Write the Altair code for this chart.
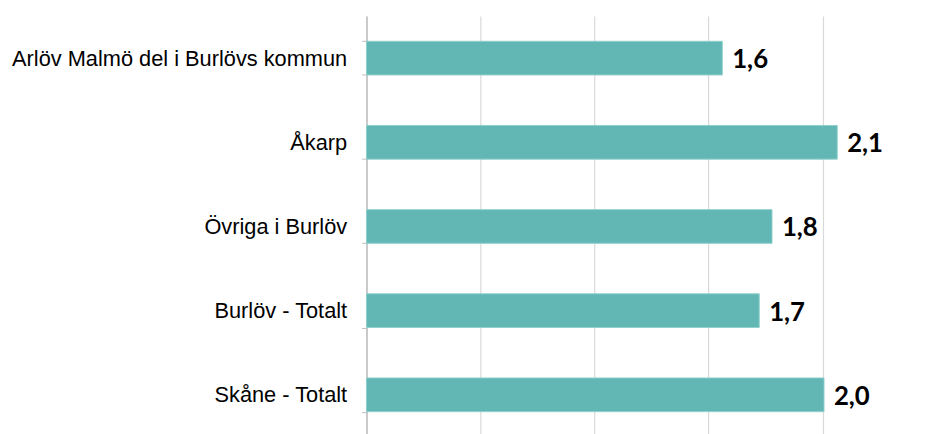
import altair as alt
import pandas as pd

categories = ["Arlöv Malmö del i Burlövs kommun", "Åkarp", "Övriga i Burlöv", "Burlöv - Totalt", "Skåne - Totalt"]
values = [1.56, 2.064, 1.778, 1.722, 2.006]
labels = ["1,6", "2,1", "1,8", "1,7", "2,0"]
grid_ticks = [0, 0.5, 1.0, 1.5, 2.0]

df = pd.DataFrame({"cat": categories, "val": values, "lbl": labels})

y_enc = alt.Y("cat:N", sort=categories, title=None,
              scale=alt.Scale(paddingInner=0.6, paddingOuter=0.3),
              axis=alt.Axis(tickBand="extent", labelFont="Liberation Sans", labelFontSize=22,
                            labelColor="#000000", labelPadding=15, tickSize=5,
                            tickColor="#BFBFBF", domainColor="#BFBFBF", domainWidth=1.5,
                            grid=False, labelLimit=500))
x_enc = alt.X("val:Q", title=None,
              scale=alt.Scale(domain=[0, 2.44], nice=False, zero=True),
              axis=alt.Axis(values=grid_ticks, labels=False, ticks=False, domain=False,
                            grid=True, gridColor="#D9D9D9", gridWidth=1.2))

bars = alt.Chart(df).mark_bar(color="#62B7B4", stroke="#8FCFCC", strokeWidth=1).encode(x=x_enc, y=y_enc)
text = alt.Chart(df).mark_text(align="left", baseline="middle", dx=10, dy=2, font="Lato",
                               fontWeight="bold", fontSize=26, color="#000000").encode(
    x="val:Q", y=alt.Y("cat:N", sort=categories), text="lbl:N")

chart = (bars + text).properties(
    width=562, height=425,
    autosize=alt.AutoSizeParams(type="none"),
    padding={"left": 362, "top": 6, "right": 0, "bottom": 0},
).configure_view(stroke=None)

chart.save("out.html", embed_options={"renderer": "svg", "actions": False})
